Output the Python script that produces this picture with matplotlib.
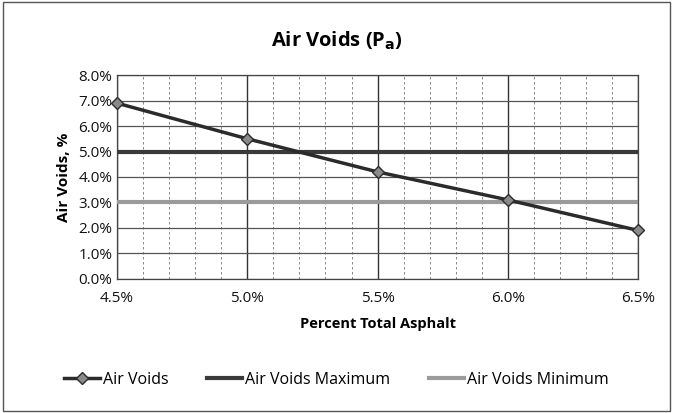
import numpy as np
import matplotlib.pyplot as plt
from matplotlib.ticker import MultipleLocator, FuncFormatter
from matplotlib.patches import Rectangle

plt.rcParams['font.family'] = ['Open Sans', 'DejaVu Sans']

# Data
asphalt = [4.5, 5.0, 5.5, 6.0, 6.5]          # percent total asphalt
air_voids = [6.9, 5.5, 4.2, 3.1, 1.9]        # air voids, %
voids_max = [5.0, 5.0, 5.0, 5.0, 5.0]
voids_min = [3.0, 3.0, 3.0, 3.0, 3.0]

fig = plt.figure(figsize=(6.73, 4.13), dpi=100)
ax = fig.add_axes([0.174, 0.325, 0.774, 0.493])

# grid
ax.xaxis.set_major_locator(MultipleLocator(0.5))
ax.xaxis.set_minor_locator(MultipleLocator(0.1))
ax.yaxis.set_major_locator(MultipleLocator(1.0))
ax.grid(which='major', axis='x', color='#333333', linewidth=1.0)
ax.grid(which='minor', axis='x', color='#777777', linewidth=0.6, linestyle=(0, (3, 3)))
ax.grid(which='major', axis='y', color='#555555', linewidth=0.9)
ax.set_axisbelow(True)

ax.plot(asphalt, voids_max, color='#3a3a3a', linewidth=3.0, label='Air Voids Maximum', zorder=3)
ax.plot(asphalt, voids_min, color='#9a9a9a', linewidth=3.0, label='Air Voids Minimum', zorder=3)
ax.plot(asphalt, air_voids, color='#2b2b2b', linewidth=2.5, marker='D', markersize=6.5,
        markerfacecolor='#8a8a8a', markeredgecolor='#2b2b2b', label='Air Voids', zorder=4,
        clip_on=False)

ax.set_xlim(4.5, 6.5)
ax.set_ylim(0, 8)
pct = FuncFormatter(lambda v, p: f"{v:.1f}%")
ax.xaxis.set_major_formatter(pct)
ax.yaxis.set_major_formatter(pct)
ax.tick_params(which='both', length=0, labelsize=11, colors='#111111')
ax.tick_params(axis='x', pad=9)
for s in ax.spines.values():
    s.set_color('#444444')
    s.set_linewidth(0.9)

ax.set_xlabel('Percent Total Asphalt', fontsize=10.5, fontweight='bold', labelpad=8)
ax.set_ylabel('Air Voids, %', fontsize=11, fontweight='bold', labelpad=5)
fig.text(0.5, 0.9, r'Air Voids (P$_\mathbf{a}$)', ha='center', va='center',
         fontsize=14.5, fontweight='bold')

handles, labels = ax.get_legend_handles_labels()
order = [2, 0, 1]
leg = fig.legend([handles[i] for i in order], [labels[i] for i in order],
                 loc='center', bbox_to_anchor=(0.5, 0.08), ncol=3, frameon=False,
                 fontsize=11.5, handlelength=2.2, handletextpad=0.2, columnspacing=2.4)

fig.patches.append(Rectangle((0.004, 0.006), 0.992, 0.988, transform=fig.transFigure,
                             fill=False, edgecolor='#555555', linewidth=1.0))

fig.savefig('out.png', dpi=100)
